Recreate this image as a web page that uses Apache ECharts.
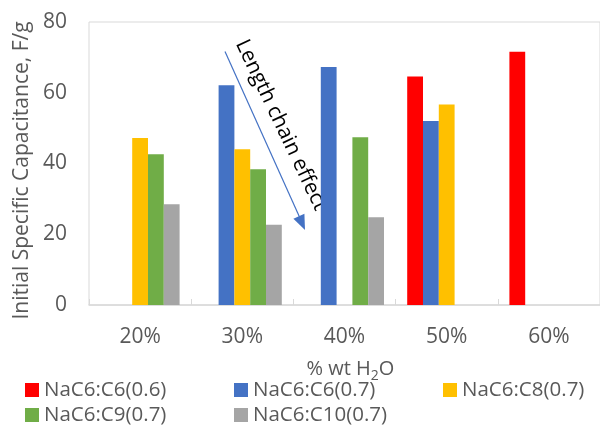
<!DOCTYPE html>
<html>
<head>
<meta charset="utf-8">
<script src="https://cdn.jsdelivr.net/npm/echarts@6/dist/echarts.min.js"></script>
<style>
  html, body { margin: 0; padding: 0; background: #fff; }
  #chart { width: 600px; height: 425px; }
</style>
</head>
<body>
<div id="chart"></div>
<script>
// Water content categories
const categories = ['20%', '30%', '40%', '50%', '60%'];

// Initial specific capacitance (F/g) per electrolyte
const seriesNames = ['NaC6:C6(0.6)', 'NaC6:C6(0.7)', 'NaC6:C8(0.7)', 'NaC6:C9(0.7)', 'NaC6:C10(0.7)'];
const c6_06  = [null, null, null, 64.6, 71.6];
const c6_07  = [null, 62.1, 67.3, 52.0, null];
const c8_07  = [47.2, 44.0, null, 56.7, null];
const c9_07  = [42.6, 38.4, 47.4, null, null];
const c10_07 = [28.5, 22.7, 24.8, null, null];
const values = [c6_06, c6_07, c8_07, c9_07, c10_07];

const colors = ['#ff0000', '#4472c4', '#ffc000', '#70ad47', '#a5a5a5'];
const axisGray = '#d9d9d9';
const textGray = '#595959';
const font = '"Open Sans", "Noto Sans", sans-serif';

// Legend laid out as a 3-column grid, one legend block per entry
const legendSlots = [[25, 377.5], [234, 377.5], [443, 377.5], [25, 402.5], [234, 402.5]];

const chart = echarts.init(document.getElementById('chart'));

chart.setOption({
  animation: false,
  color: colors,
  textStyle: { fontFamily: font },
  grid: {
    left: 89, right: -7, top: 22, bottom: 120,
    show: true, borderColor: axisGray, borderWidth: 1,
    containLabel: false
  },
  xAxis: {
    type: 'category',
    data: categories,
    axisLine: { lineStyle: { color: axisGray, width: 1.5 } },
    axisTick: { show: true, inside: true, length: 6, lineStyle: { color: axisGray } },
    axisLabel: { color: textGray, fontSize: 21, margin: 22, fontFamily: font },
    name: '{sp|}% wt H{sub|2}O',
    nameLocation: 'middle',
    nameGap: 50,
    nameTextStyle: {
      color: textGray, fontSize: 20, fontFamily: font,
      rich: {
        sp: { width: 12 },
        sub: { fontSize: 14, color: textGray, padding: [14, 0, 0, 0], fontFamily: font }
      }
    }
  },
  yAxis: {
    type: 'value',
    min: 0, max: 80, interval: 20,
    splitLine: { show: false },
    axisLine: { show: false },
    axisTick: { show: false },
    axisLabel: { color: textGray, fontSize: 21, margin: 22, fontFamily: font },
    name: 'Initial Specific Capacitance, F/g{sp|}',
    nameLocation: 'middle',
    nameGap: 52,
    nameTextStyle: {
      color: textGray, fontSize: 21, fontFamily: font,
      rich: { sp: { width: 14 } }
    }
  },
  legend: seriesNames.map((name, i) => ({
    left: legendSlots[i][0], top: legendSlots[i][1],
    padding: 0,
    itemWidth: 14, itemHeight: 14, itemGap: 0,
    icon: 'rect',
    textStyle: { color: textGray, fontSize: 20.5, fontFamily: font, lineHeight: 25 },
    data: [name]
  })),
  series: seriesNames.map((name, i) => ({
    name: name,
    type: 'bar',
    data: values[i],
    barGap: '0%',
    barCategoryGap: '22.7%',
    itemStyle: { color: colors[i] }
  })),
  graphic: [
    {
      type: 'line',
      shape: { x1: 225, y1: 51.5, x2: 299.5, y2: 217 },
      style: { stroke: '#4472c4', lineWidth: 1.2 }
    },
    {
      type: 'polygon',
      shape: { points: [[305, 230], [293.4, 218.8], [304.4, 213.8]] },
      style: { fill: '#4472c4' }
    },
    {
      type: 'text',
      x: 281, y: 125,
      rotation: -64.5 * Math.PI / 180,
      style: {
        text: 'Length chain effect',
        fill: '#000', fontSize: 21, fontFamily: font,
        align: 'center', verticalAlign: 'middle'
      }
    }
  ]
});
</script>
</body>
</html>
